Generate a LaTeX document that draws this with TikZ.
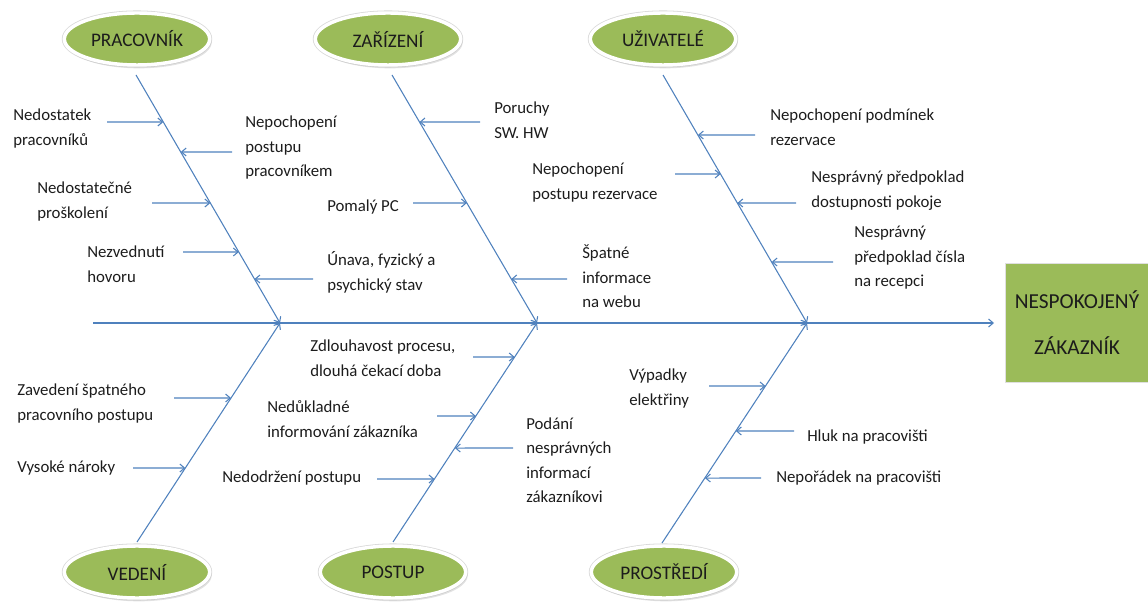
\documentclass[tikz,border=0pt]{standalone}
\usepackage{fontspec}
\setmainfont{Carlito}
\usetikzlibrary{arrows.meta,shadows,calc,shapes.geometric}
\definecolor{ogreen}{HTML}{9BBB59}
\definecolor{oblue}{HTML}{4F81BD}
\definecolor{otext}{HTML}{1C1C1C}
\tikzset{
  cat/.style={ellipse, minimum width=109pt, minimum height=39pt, fill=ogreen, draw=white, line width=2.6pt,
    preaction={draw=gray!30, line width=3.8pt},
    drop shadow={shadow xshift=1.5pt, shadow yshift=-2.5pt, fill=gray!45},
    text=otext, font=\fontsize{14.4}{16}\selectfont, inner sep=0pt},
  effect/.style={rectangle, minimum width=107pt, minimum height=89pt, fill=ogreen, draw=gray!25, line width=0.8pt,
    text=otext, align=center, font=\fontsize{16}{34.5}\selectfont, inner sep=0pt},
  bone/.style={draw=oblue, line width=0.8pt, -{Straight Barb[length=3.5pt,width=6pt]}},
  cause/.style={draw=oblue, line width=0.8pt, -{Straight Barb[length=3.5pt,width=6pt]}},
  lbl/.style={anchor=base west, align=left, inner sep=0pt, text=otext, font=\fontsize{12.6}{18.4}\selectfont},
}
\newcommand\cause[4]{%
  \coordinate (#1) at (#2,#3);
  \coordinate (#1h) at (0,#3);
  \draw[cause] (#1) -- (intersection of #4a--#4b and #1--#1h);}
\begin{document}
\begin{tikzpicture}[x=0.75pt,y=-0.75pt]
\useasboundingbox (0,0) rectangle (1148,605);
% category ellipses
\node[cat] (prac) at (137,39) {PRACOVNÍK};
\node[cat] (zar)  at (388,39) {ZAŘÍZENÍ};
\node[cat] (uziv) at (663,39) {UŽIVATELÉ};
\node[cat] (ved)  at (137,572) {VEDENÍ};
\node[cat] (post) at (393,572) {POSTUP};
\node[cat] (pros) at (664,572) {PROSTŘEDÍ};
% effect
\node[effect] (zak) at (1077,323) {NESPOKOJENÝ\\ZÁKAZNÍK};
% spine
\coordinate (sp0) at (93,323);
\coordinate (sp1) at (994,323);
\draw[bone] (sp0) -- (sp1);
% bones
\coordinate (Pa) at (136,75);  \coordinate (Pb) at (280,323);
\coordinate (Za) at (392,75);  \coordinate (Zb) at (537,323);
\coordinate (Ua) at (663,75);  \coordinate (Ub) at (807,323);
\coordinate (Va) at (137,542); \coordinate (Vb) at (280,323);
\coordinate (Oa) at (393,542); \coordinate (Ob) at (537,323);
\coordinate (Ra) at (662,543); \coordinate (Rb) at (807,323);
\draw[bone] (Pa) -- (Pb);
\draw[bone] (Za) -- (Zb);
\draw[bone] (Ua) -- (Ub);
\draw[bone] (Va) -- (Vb);
\draw[bone] (Oa) -- (Ob);
\draw[bone] (Ra) -- (Rb);
% labels (anchor = baseline of the last line)
\node[lbl] (t1)  at (13,145.5)  {Nedostatek\\pracovníků};
\node[lbl] (t2)  at (245,177)   {Nepochopení\\postupu\\pracovníkem};
\node[lbl] (t3)  at (37,218.5)  {Nedostatečné\\proškolení};
\node[lbl] (t4)  at (87,282.5)  {Nezvednutí\\hovoru};
\node[lbl] (t5)  at (327,290.5) {Únava, fyzický a\\psychický stav};
\node[lbl] (t6)  at (327,212)   {Pomalý PC};
\node[lbl] (t7)  at (494,138.5) {Poruchy\\SW. HW};
\node[lbl] (t8)  at (532,199.5) {Nepochopení\\postupu rezervace};
\node[lbl] (t9)  at (582,308)   {Špatné\\informace\\na webu};
\node[lbl] (t10) at (770,145.5) {Nepochopení podmínek\\rezervace};
\node[lbl] (t11) at (811,207.5) {Nesprávný předpoklad\\dostupnosti pokoje};
\node[lbl] (t12) at (854,287)   {Nesprávný\\předpoklad čísla\\na recepci};
\node[lbl] (t13) at (17,420.5)  {Zavedení špatného\\pracovního postupu};
\node[lbl] (t14) at (17,472)    {Vysoké nároky};
\node[lbl] (t15) at (310,376.5) {Zdlouhavost procesu,\\dlouhá čekací doba};
\node[lbl] (t16) at (267,437.5) {Nedůkladné\\informování zákazníka};
\node[lbl] (t17) at (526,502.6) {Podání\\nesprávných\\informací\\zákazníkovi};
\node[lbl] (t18) at (222,482)   {Nedodržení postupu};
\node[lbl] (t19) at (629,405.5) {Výpadky\\elektřiny};
\node[lbl] (t20) at (807,441)   {Hluk na pracovišti};
\node[lbl] (t21) at (776,482)   {Nepořádek na pracovišti};
% cause arrows
\cause{c1}{107}{122}{P}
\cause{c2}{232}{152}{P}
\cause{c3}{152}{203}{P}
\cause{c4}{183}{252}{P}
\cause{c5}{313}{279}{P}
\cause{c6}{413}{203}{Z}
\cause{c7}{480}{122}{Z}
\cause{c8}{675}{174}{U}
\cause{c9}{567}{279}{Z}
\cause{c10}{755}{135}{U}
\cause{c11}{796}{203}{U}
\cause{c12}{833}{262}{U}
\cause{c13}{174}{398}{V}
\cause{c14}{133}{468}{V}
\cause{c15}{473}{357}{O}
\cause{c16}{437}{416}{O}
\cause{c17}{513}{448}{O}
\cause{c18}{377}{479}{O}
\cause{c19}{709}{386}{R}
\cause{c20}{794}{431}{R}
\cause{c21}{761}{478}{R}
\end{tikzpicture}
\end{document}
